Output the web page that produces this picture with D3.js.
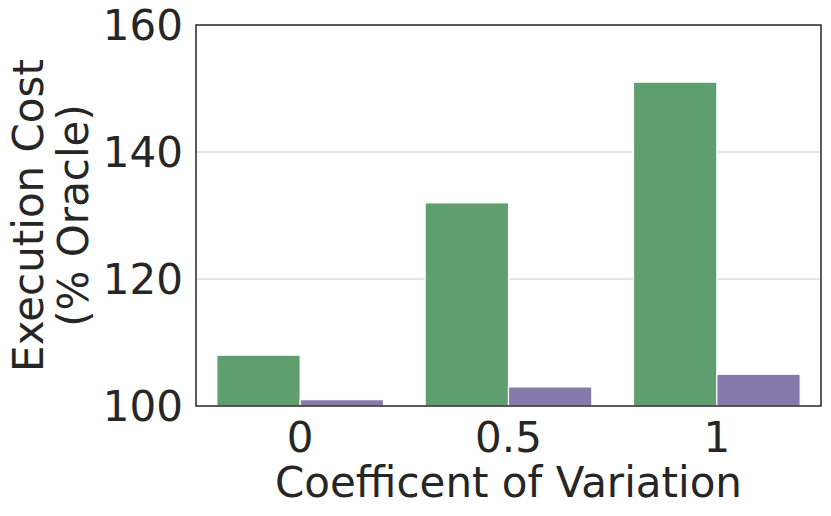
<!DOCTYPE html>
<html><head><meta charset="utf-8">
<script src="https://cdn.jsdelivr.net/npm/d3@7"></script>
<style>body{margin:0;background:#fff}svg{display:block}text{font-family:"DejaVu Sans";fill:#262626}</style>
</head><body>
<script>
const categories = ["0", "0.5", "1"];
const seriesNames = ["A", "B"];
const seriesA = [108, 132, 151];
const seriesB = [101, 103, 105];
const yTicks = [100, 120, 140, 160];
const colors = ["#5f9e6e", "#8779ac"];

const W = 831, H = 516;
const m = {l: 196, r: 10, t: 25, b: 110};
const svg = d3.select("body").append("svg").attr("width", W).attr("height", H);
const x = d3.scaleBand().domain(categories).range([m.l, W - m.r]).paddingInner(0.2).paddingOuter(0.1);
const x1 = d3.scaleBand().domain(seriesNames).range([0, x.bandwidth()]);
const y = d3.scaleLinear().domain([100, 160]).range([H - m.b, m.t]);

svg.append("g").selectAll("line").data(yTicks.slice(1, -1)).join("line")
  .attr("x1", m.l).attr("x2", W - m.r).attr("y1", d => y(d)).attr("y2", d => y(d))
  .attr("stroke", "#cccccc").attr("stroke-width", 1.2);

const data = [seriesA, seriesB];
data.forEach((s, si) => {
  svg.append("g").selectAll("rect").data(s).join("rect")
    .attr("x", (d, i) => x(categories[i]) + x1(seriesNames[si]))
    .attr("width", x1.bandwidth())
    .attr("y", d => y(d)).attr("height", d => y(100) - y(d))
    .attr("fill", colors[si]).attr("stroke", "#fff").attr("stroke-width", 1.2);
});

svg.append("rect").attr("x", m.l).attr("y", m.t).attr("width", W - m.r - m.l).attr("height", H - m.b - m.t)
  .attr("fill", "none").attr("stroke", "#262626").attr("stroke-width", 1.5);

const fs = "42px";
svg.append("g").selectAll("text").data(yTicks).join("text")
  .attr("x", 183).attr("y", d => y(d)).attr("dy", "0.36em").attr("text-anchor", "end")
  .style("font-size", fs).text(d => d);

svg.append("g").selectAll("text").data(categories).join("text")
  .attr("x", d => x(d) + x.bandwidth() / 2).attr("y", 452).attr("text-anchor", "middle")
  .style("font-size", fs).text(d => d);

svg.append("text").attr("x", (m.l + W - m.r) / 2).attr("y", 497).attr("text-anchor", "middle")
  .style("font-size", fs).text("Coefficent of Variation");

const yl = svg.append("text").attr("transform", `translate(0,${(m.t + H - m.b) / 2}) rotate(-90)`)
  .attr("text-anchor", "middle").style("font-size", fs);
yl.append("tspan").attr("x", 0).attr("y", 43).text("Execution Cost");
yl.append("tspan").attr("x", 0).attr("y", 88).text("(% Oracle)");
</script>
</body></html>
